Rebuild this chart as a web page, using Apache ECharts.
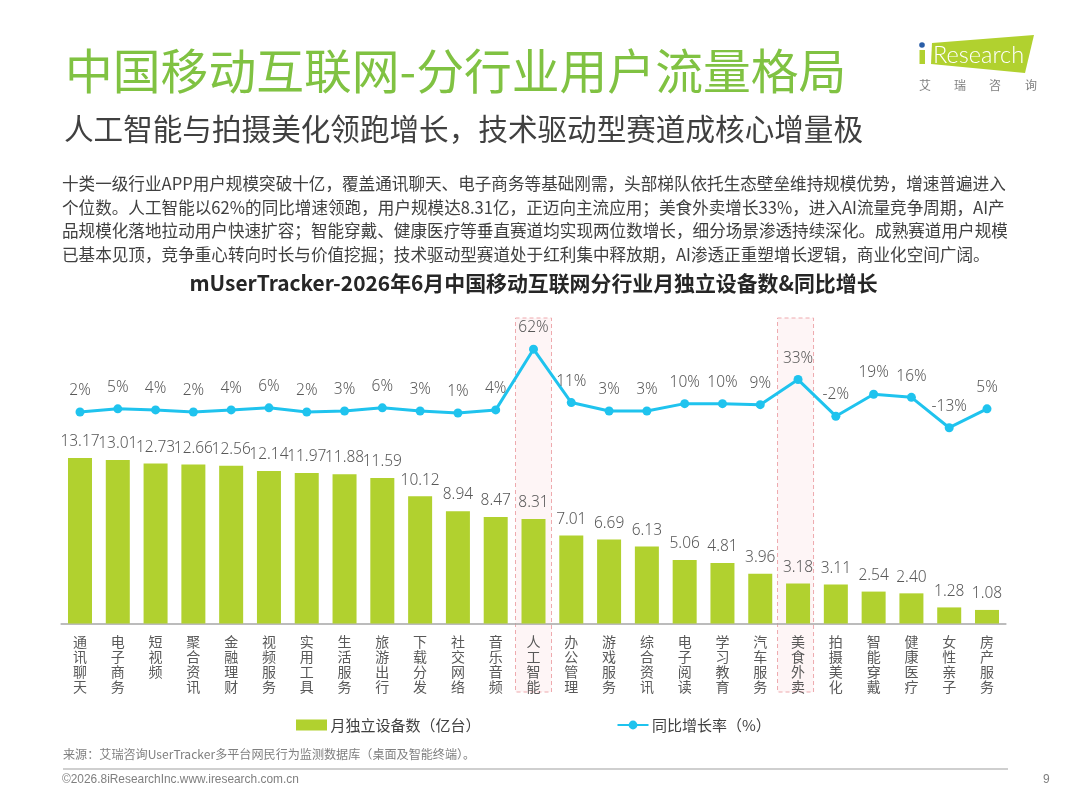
<!DOCTYPE html>
<html><head><meta charset="utf-8">
<style>html,body{margin:0;padding:0;background:#fff}#c{width:1067px;height:800px}</style>
<script src="https://cdn.jsdelivr.net/npm/echarts@6/dist/echarts.min.js"></script></head>
<body><div id="c"></div>
<script>
const categories = ['通讯聊天','电子商务','短视频','聚合资讯','金融理财','视频服务','实用工具','生活服务','旅游出行','下载分发','社交网络','音乐音频','人工智能','办公管理','游戏服务','综合资讯','电子阅读','学习教育','汽车服务','美食外卖','拍摄美化','智能穿戴','健康医疗','女性亲子','房产服务'];
const devices = [13.17,13.01,12.73,12.66,12.56,12.14,11.97,11.88,11.59,10.12,8.94,8.47,8.31,7.01,6.69,6.13,5.06,4.81,3.96,3.18,3.11,2.54,2.40,1.28,1.08];
const growth = [2,5,4,2,4,6,2,3,6,3,1,4,62,11,3,3,10,10,9,33,-2,19,16,-13,5];
const highlighted = ['人工智能','美食外卖'];
const highlightShift = [0,-2.5];
const barName = '月独立设备数（亿台）';
const lineName = '同比增长率（%）';
const titleText = '中国移动互联网-分行业用户流量格局';
const subtitleText = '人工智能与拍摄美化领跑增长，技术驱动型赛道成核心增量极';
const bodyLines = [
 '十类一级行业APP用户规模突破十亿，覆盖通讯聊天、电子商务等基础刚需，头部梯队依托生态壁垒维持规模优势，增速普遍进入',
 '个位数。人工智能以62%的同比增速领跑，用户规模达8.31亿，正迈向主流应用；美食外卖增长33%，进入AI流量竞争周期，AI产',
 '品规模化落地拉动用户快速扩容；智能穿戴、健康医疗等垂直赛道均实现两位数增长，细分场景渗透持续深化。成熟赛道用户规模',
 '已基本见顶，竞争重心转向时长与价值挖掘；技术驱动型赛道处于红利集中释放期，AI渗透正重塑增长逻辑，商业化空间广阔。'];
const chartTitle = 'mUserTracker-2026年6月中国移动互联网分行业月独立设备数&同比增长';
const sourceText = '来源：艾瑞咨询UserTracker多平台网民行为监测数据库（桌面及智能终端）。';
const footerText = '©2026.8iResearchInc.www.iresearch.com.cn';
const pageNo = '9';
const logoWord = 'Research';
const logoChars = ['艾','瑞','咨','询'];

const F = '"Noto Sans CJK SC","Noto Sans",sans-serif';
const NUM = '"Noto Sans","Noto Sans CJK SC",sans-serif';
const ARIAL = '"Liberation Sans",Arial,sans-serif';
const LBL = '#595959';
const txt = (x,y,text,size,fill,extra) => ({type:'text',z:10,x,y,silent:true,style:Object.assign({text,fontSize:size,fill,fontFamily:F,verticalAlign:'middle'},extra||{})});

const chart = echarts.init(document.getElementById('c'),null,{renderer:'canvas'});
const gridTop = 309.4, gridBottom = 623.5;
const logoX = [925,960,995,1031];
const baseGraphic = [
 txt(65,71,titleText,47.8,'#80c242'),
 txt(64,129,subtitleText,29.6,'#404040'),
 ...bodyLines.map((l,i)=>txt(62,183.5+i*23.7,l,16.6,'#404040')),
 txt(533.5,283,chartTitle,20.9,'#262626',{fontWeight:'bold',align:'center'}),
 txt(63,754,sourceText,12.1,'#7f7f7f'),
 {type:'line',z:10,silent:true,shape:{x1:63,y1:769,x2:1008,y2:769},style:{stroke:'#bfbfbf',lineWidth:1.5}},
 txt(62,780,footerText,11.9,'#7f7f7f',{fontFamily:ARIAL}),
 txt(1043,780,pageNo,12,'#7f7f7f',{fontFamily:ARIAL}),
 {type:'polygon',z:10,silent:true,shape:{points:[[932,43],[1034,35],[1025,73],[931,64]]},style:{fill:'#b1d12f'}},
 {type:'rect',z:10,silent:true,shape:{x:919.5,y:50,width:5.5,height:14},style:{fill:'#b1d12f'}},
 {type:'circle',z:11,silent:true,shape:{cx:922,cy:45,r:2.8},style:{fill:'#2a5ea8'}},
 txt(933,55,logoWord,23.5,'#ffffff',{fontFamily:'Lato,sans-serif',fontWeight:300}),
 ...logoChars.map((c,i)=>txt(logoX[i],85,c,12,'#7f7f7f',{align:'center'}))
];
chart.setOption({
 animation:false,
 textStyle:{fontFamily:F},
 grid:{left:61.1,right:61.1,top:gridTop,bottom:800-gridBottom,containLabel:false},
 legend:{left:291,top:712.5,itemGap:136,itemWidth:31,itemHeight:11,
  textStyle:{fontSize:15,color:'#404040',fontFamily:F,padding:[0,0,0,-1.5]},
  data:[{name:barName,icon:'rect'},{name:lineName}]},
 xAxis:{type:'category',data:categories,
  axisLine:{lineStyle:{color:'#a6a6a6',width:1.5}},axisTick:{show:false},
  axisLabel:{interval:0,margin:11,fontSize:14,lineHeight:15,color:LBL,verticalAlign:'top',
   formatter:v=>v.split('').join('\n')}},
 yAxis:[{type:'value',min:0,max:25,show:false,splitLine:{show:false}},
        {type:'value',min:-200,max:100,show:false,splitLine:{show:false}}],
 series:[
  {name:barName,type:'bar',yAxisIndex:0,z:2,barWidth:24,data:devices,itemStyle:{color:'#b1d12f'},
   label:{show:true,position:'top',distance:8.5,fontSize:15.5,fontWeight:300,color:LBL,fontFamily:NUM,formatter:p=>p.value.toFixed(2)}},
  {name:lineName,type:'line',yAxisIndex:1,z:3,data:growth,symbol:'circle',symbolSize:9,
   lineStyle:{color:'#1fc3ee',width:3},itemStyle:{color:'#1fc3ee'},
   label:{show:true,position:'top',distance:9,fontSize:15.5,fontWeight:300,color:LBL,fontFamily:NUM,formatter:p=>p.value+'%'}}
 ],
 graphic:baseGraphic
});
const bands = highlighted.map((name,i)=>{
 const cx = chart.convertToPixel({xAxisIndex:0},name)+highlightShift[i];
 return {type:'rect',z:0,silent:true,shape:{x:cx-18,y:318,width:36,height:374},
  style:{fill:'#fef5f6',stroke:'#eeaaae',lineWidth:1,lineDash:[4,3]}};
});
chart.setOption({graphic:[...baseGraphic,...bands]});
</script></body></html>
